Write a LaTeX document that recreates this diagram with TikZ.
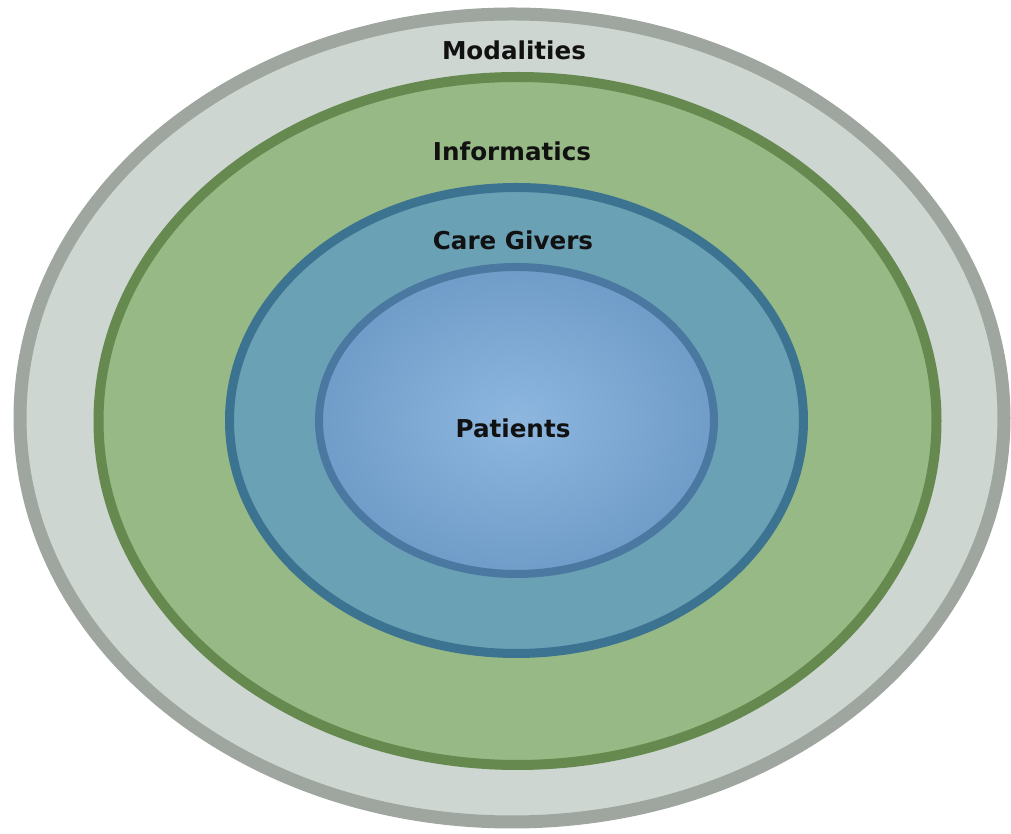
\documentclass[tikz,border=0pt]{standalone}
\usepackage{fontspec}
\setmainfont{DejaVu Sans}
\usetikzlibrary{shapes.geometric}

\definecolor{modalfill}{HTML}{CDD6D0}
\definecolor{modaldraw}{HTML}{9EA69F}
\definecolor{infofill}{HTML}{97B985}
\definecolor{infodraw}{HTML}{66894F}
\definecolor{carefill}{HTML}{6BA1B5}
\definecolor{caredraw}{HTML}{3C7390}
\definecolor{patinner}{HTML}{8DB7DF}
\definecolor{patouter}{HTML}{6F9CC8}
\definecolor{patdraw}{HTML}{4A78A0}
\definecolor{labeltext}{HTML}{111111}

\tikzset{
    ring/.style={ellipse, inner sep=0pt, outer sep=0pt},
    ringlabel/.style={text=labeltext, font=\fontsize{14}{16}\selectfont\bfseries}
}

\begin{document}
\begin{tikzpicture}
\useasboundingbox (0,0) rectangle (20.22,16.68);
% layers, outside in
\node[ring, fill=modalfill, draw=modaldraw, line width=0.26cm,
    minimum width=19.68cm, minimum height=16.16cm] (modal) at (10.24,8.32) {};
\node[ring, fill=infofill, draw=infodraw, line width=0.2cm,
    minimum width=16.76cm, minimum height=13.76cm] (info) at (10.35,8.26) {};
\node[ring, fill=carefill, draw=caredraw, line width=0.18cm,
    minimum width=11.48cm, minimum height=9.32cm] (care) at (10.33,8.27) {};
\node[ring, inner color=patinner, outer color=patouter, draw=patdraw, line width=0.16cm,
    minimum width=7.9cm, minimum height=6.14cm] (pat) at (10.33,8.27) {};
% labels
\node[ringlabel] (modaltext) at (10.28,15.68) {Modalities};
\node[ringlabel] (infotext) at (10.24,13.66) {Informatics};
\node[ringlabel] (caretext) at (10.26,11.88) {Care Givers};
\node[ringlabel] (pattext) at (10.26,8.12) {Patients};
\end{tikzpicture}
\end{document}
